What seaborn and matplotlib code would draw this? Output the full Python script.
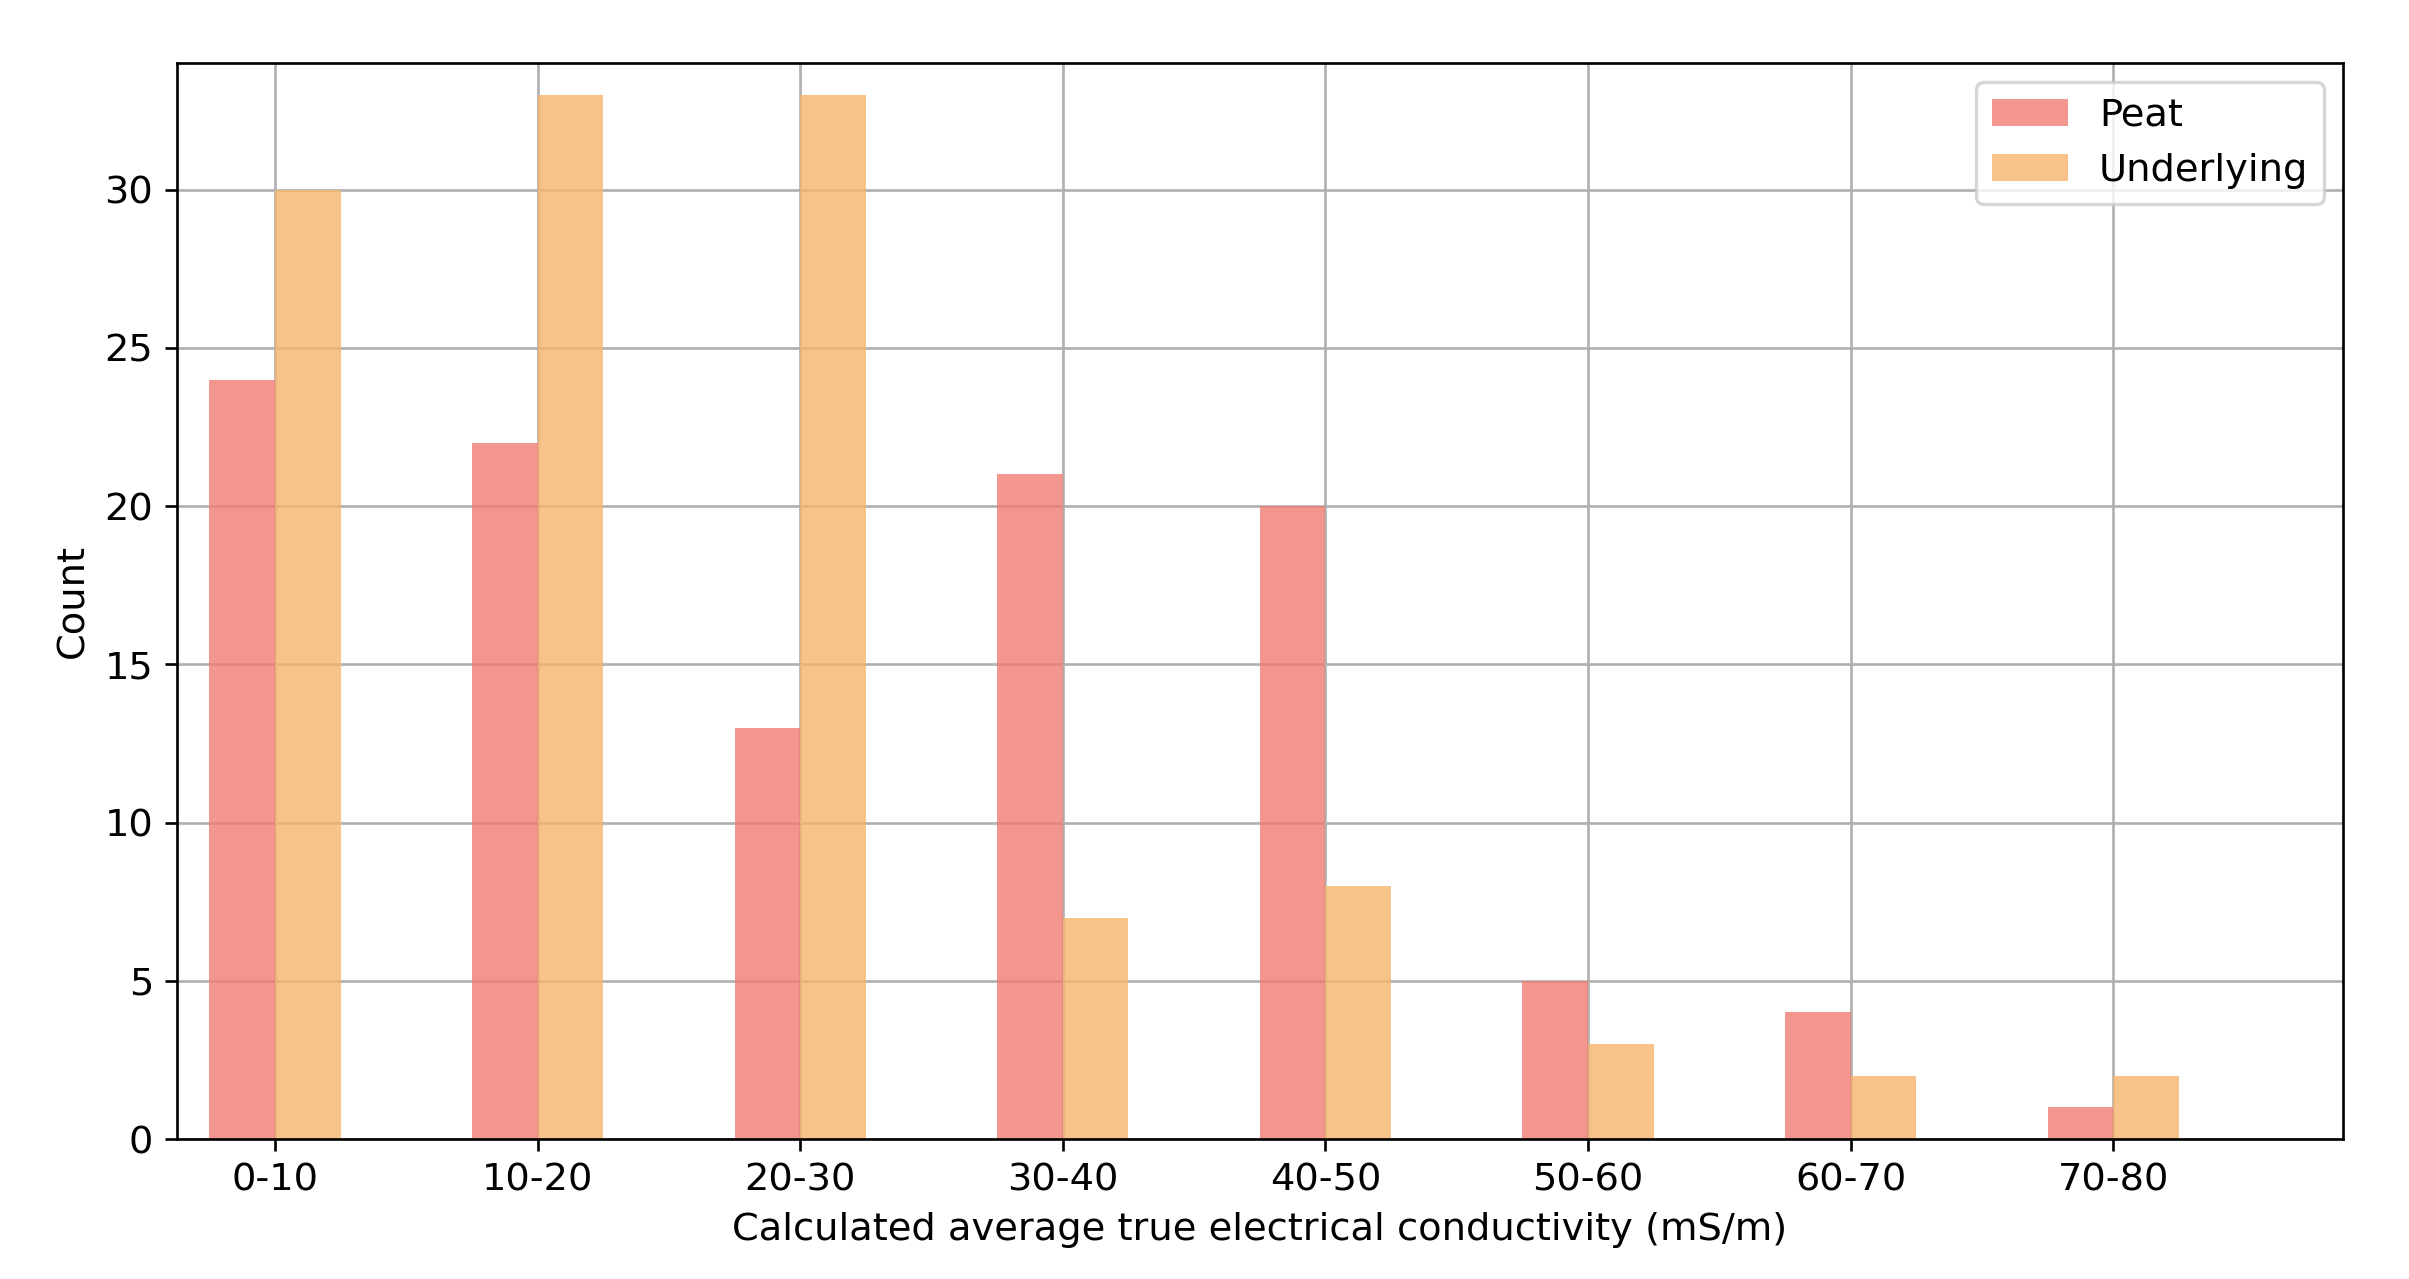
import matplotlib
matplotlib.use("Agg")
import matplotlib.pyplot as plt
import seaborn as sns
import pandas as pd

categories = ["0-10", "10-20", "20-30", "30-40", "40-50", "50-60", "60-70", "70-80"]
peat = [24, 22, 13, 21, 20, 5, 4, 1]
underlying = [30, 33, 33, 7, 8, 3, 2, 2]
series_names = ["Peat", "Underlying"]
colors = ["#F17D72", "#F6B56D"]

df = pd.DataFrame({
    "range": categories * 2,
    "count": peat + underlying,
    "layer": [series_names[0]] * len(categories) + [series_names[1]] * len(categories),
})

plt.rcParams["font.family"] = ["DejaVu Sans"]
plt.rcParams["font.size"] = 11.5

fig = plt.figure(figsize=(2409 / 240, 1279 / 240), dpi=240)
ax = fig.add_axes([0.0733, 0.1094, 0.8993, 0.8413])

sns.barplot(data=df, x="range", y="count", hue="layer", palette=colors,
            width=0.5, linewidth=0, saturation=1, alpha=0.8, ax=ax,
            order=categories, hue_order=series_names)

ax.set_xlim(-0.375, 7.875)
ax.set_ylim(0, 34)
ax.set_yticks([0, 5, 10, 15, 20, 25, 30])
ax.grid(True, color="#b0b0b0", linewidth=0.8)
ax.set_axisbelow(True)
for s in ax.spines.values():
    s.set_color("black")
    s.set_linewidth(0.8)
    s.set_zorder(5)
ax.tick_params(axis="both", labelsize=11.5, length=3.5, width=0.8, color="black")
ax.set_xlabel("Calculated average true electrical conductivity (mS/m)", fontsize=11.5)
ax.set_ylabel("Count", fontsize=11.5)
leg = ax.legend(loc="upper right", fontsize=11.5, title=None, frameon=True)
leg.get_frame().set_edgecolor("#cccccc")

fig.savefig("out.png", dpi=240)
